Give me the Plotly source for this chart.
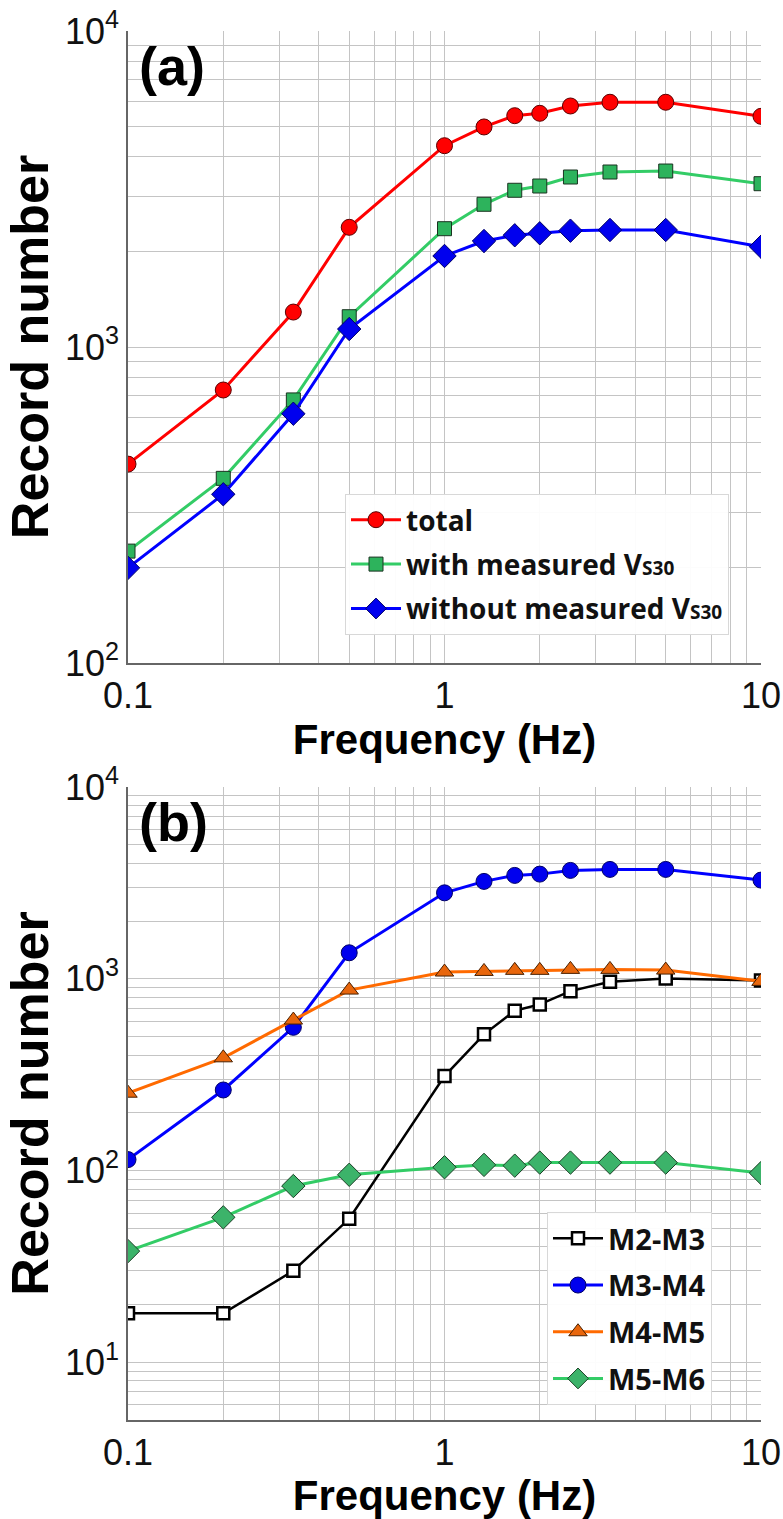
import math
import plotly.graph_objects as go

# Frequencies (Hz) shared by both panels
freq = [0.1, 0.2, 0.333, 0.5, 1, 1.333, 1.667, 2, 2.5, 3.333, 5, 10]

# Panel (a): record counts by Vs30 availability
total = [426, 731, 1290, 2392, 4335, 4970, 5395, 5490, 5790, 5950, 5950, 5370]
with_vs30 = [226, 384, 680, 1247, 2368, 2829, 3133, 3232, 3451, 3579, 3605, 3287]
without_vs30 = [200, 342, 615, 1140, 1941, 2165, 2257, 2290, 2334, 2346, 2346, 2077]

# Panel (b): record counts by magnitude bin
m2_m3 = [18, 18, 30, 56, 311, 513, 681, 735, 862, 964, 1004, 980]
m3_m4 = [114, 263, 558, 1366, 2806, 3219, 3459, 3513, 3673, 3717, 3717, 3269]
m4_m5 = [253, 387, 609, 873, 1084, 1092, 1106, 1106, 1119, 1119, 1110, 969]
m5_m6 = [38, 57, 83, 95, 104, 107, 106, 110, 110, 110, 110, 97]

x_ticks = [0.1, 1, 10]
x_ticktext = ["0.1", "1", "10"]
y_ticks_a = [100, 1000, 10000]
y_ticktext_a = ["10<sup>2</sup>", "10<sup>3</sup>", "10<sup>4</sup>"]
y_ticks_b = [10, 100, 1000, 10000]
y_ticktext_b = ["10<sup>1</sup>", "10<sup>2</sup>", "10<sup>3</sup>", "10<sup>4</sup>"]

W, H = 783, 1519
TICK_FONT = dict(family="Liberation Sans, Arial", size=36, color="#111")
XTITLE_FONT = dict(family="Liberation Sans, Arial", size=42, color="#000")
YTITLE_FONT = dict(family="Liberation Sans, Arial", size=52, color="#000")
LEG_FONT = dict(family="Open Sans, Noto Sans, sans-serif", color="#111")

GRID = "#c4c4c4"
AXIS = "#666666"


def px_x(p):
    return p / W


def px_y(p):
    return 1 - p / H


minor_x = [v * d for d in (0.1, 1) for v in range(2, 10)]
minor_ya = [v * d for d in (100, 1000) for v in range(2, 10)]
minor_yb = [v * d for d in (1, 10, 100, 1000) for v in range(2, 10)]
minor_yb = [v for v in minor_yb if v >= 5]

fig = go.Figure()


def vs(label, small):
    return f"<b>{label}<span style='font-size:19px'>{small}</span></b>"


# ---- panel (a)
fig.add_trace(go.Scatter(
    x=freq, y=total, mode="lines+markers", name="<b>total</b>",
    line=dict(color="#ff0000", width=3),
    marker=dict(symbol="circle", size=16, color="#ff0000", line=dict(color="#5a0000", width=1)),
    xaxis="x", yaxis="y", legend="legend", legendgroup="a1"))
fig.add_trace(go.Scatter(
    x=freq, y=with_vs30, mode="lines+markers", name=vs("with measured V", "S30"),
    line=dict(color="#33cc66", width=3),
    marker=dict(symbol="square", size=14, color="#2db35c", line=dict(color="#1a3320", width=1)),
    xaxis="x", yaxis="y", legend="legend", legendgroup="a2"))
fig.add_trace(go.Scatter(
    x=freq, y=without_vs30, mode="lines+markers", name=vs("without measured V", "S30"),
    line=dict(color="#0000ff", width=3),
    marker=dict(symbol="diamond", size=18, color="#0000ee", line=dict(color="#000066", width=1)),
    xaxis="x", yaxis="y", legend="legend", legendgroup="a3"))

# ---- panel (b)
fig.add_trace(go.Scatter(
    x=freq, y=m2_m3, mode="lines+markers", name="<b>M2-M3</b>",
    line=dict(color="#000000", width=2.5),
    marker=dict(symbol="square", size=12, color="#ffffff", line=dict(color="#000000", width=2.5)),
    xaxis="x2", yaxis="y2", legend="legend2", legendgroup="b1"))
fig.add_trace(go.Scatter(
    x=freq, y=m3_m4, mode="lines+markers", name="<b>M3-M4</b>",
    line=dict(color="#0000ff", width=3),
    marker=dict(symbol="circle", size=16, color="#0000ee", line=dict(color="#000066", width=1)),
    xaxis="x2", yaxis="y2", legend="legend2", legendgroup="b2"))
fig.add_trace(go.Scatter(
    x=freq, y=m4_m5, mode="lines+markers", name="<b>M4-M5</b>",
    line=dict(color="#ff6a00", width=3),
    marker=dict(symbol="triangle-up", size=16, color="#e8660c", line=dict(color="#4a2000", width=1)),
    xaxis="x2", yaxis="y2", legend="legend2", legendgroup="b3"))
fig.add_trace(go.Scatter(
    x=freq, y=m5_m6, mode="lines+markers", name="<b>M5-M6</b>",
    line=dict(color="#33cc66", width=3),
    marker=dict(symbol="diamond", size=18, color="#3cb36a", line=dict(color="#1a4025", width=1)),
    xaxis="x2", yaxis="y2", legend="legend2", legendgroup="b4"))


def xaxis_cfg(anchor):
    return dict(
        type="log", range=[-1, 1], domain=[px_x(128), px_x(761)], anchor=anchor,
        automargin=False, ticklabeloverflow="allow",
        tickvals=x_ticks, ticktext=x_ticktext, tickfont=TICK_FONT,
        ticks="", showline=True, linecolor=AXIS, linewidth=1.5,
        showgrid=True, gridcolor=GRID, gridwidth=1, zeroline=False,
        minor=dict(tickvals=minor_x, showgrid=True, gridcolor=GRID, gridwidth=1, ticks=""),
        title=dict(text="<b>Frequency (Hz)</b>", font=XTITLE_FONT, standoff=2),
    )


def yaxis_cfg(anchor, top, bot, rng, tv, tt, minor_vals):
    return dict(
        type="log", range=rng, domain=[px_y(bot), px_y(top)], anchor=anchor,
        automargin=False, ticklabeloverflow="allow",
        tickvals=tv, ticktext=tt, tickfont=TICK_FONT,
        ticks="", showline=True, linecolor=AXIS, linewidth=1.5,
        showgrid=True, gridcolor=GRID, gridwidth=1, zeroline=False,
        minor=dict(tickvals=minor_vals, showgrid=True, gridcolor=GRID, gridwidth=1, ticks=""),
        title=dict(text="<b>Record number</b>", font=YTITLE_FONT, standoff=0),
    )


fig.update_layout(
    width=W, height=H, margin=dict(l=0, r=0, t=0, b=0, autoexpand=False),
    paper_bgcolor="#ffffff", plot_bgcolor="#ffffff",
    xaxis=xaxis_cfg("y"),
    yaxis=yaxis_cfg("x", 31, 663, [2, 4], y_ticks_a, y_ticktext_a, minor_ya),
    xaxis2=xaxis_cfg("y2"),
    yaxis2=yaxis_cfg("x2", 787, 1420, [math.log10(5), 4], y_ticks_b, y_ticktext_b, minor_yb),
    legend=dict(
        x=px_x(345), y=px_y(494), xanchor="left", yanchor="top",
        bgcolor="rgba(255,255,255,0.95)", bordercolor="#d8d8d8", borderwidth=1,
        font=dict(LEG_FONT, size=28), tracegroupgap=5, itemwidth=50),
    legend2=dict(
        x=px_x(547), y=px_y(1212), xanchor="left", yanchor="top",
        bgcolor="rgba(255,255,255,0.95)", bordercolor="#d8d8d8", borderwidth=1,
        font=dict(LEG_FONT, size=29), tracegroupgap=6, itemwidth=50),
    annotations=[
        dict(text="<b>(a)</b>", xref="x domain", yref="y domain", x=0.015, y=0.995,
             xanchor="left", yanchor="top", showarrow=False,
             font=dict(family="Liberation Sans, Arial", size=54, color="#000")),
        dict(text="<b>(b)</b>", xref="x2 domain", yref="y2 domain", x=0.015, y=0.995,
             xanchor="left", yanchor="top", showarrow=False,
             font=dict(family="Liberation Sans, Arial", size=54, color="#000")),
    ],
    showlegend=True,
)

fig.write_html("out.html")
